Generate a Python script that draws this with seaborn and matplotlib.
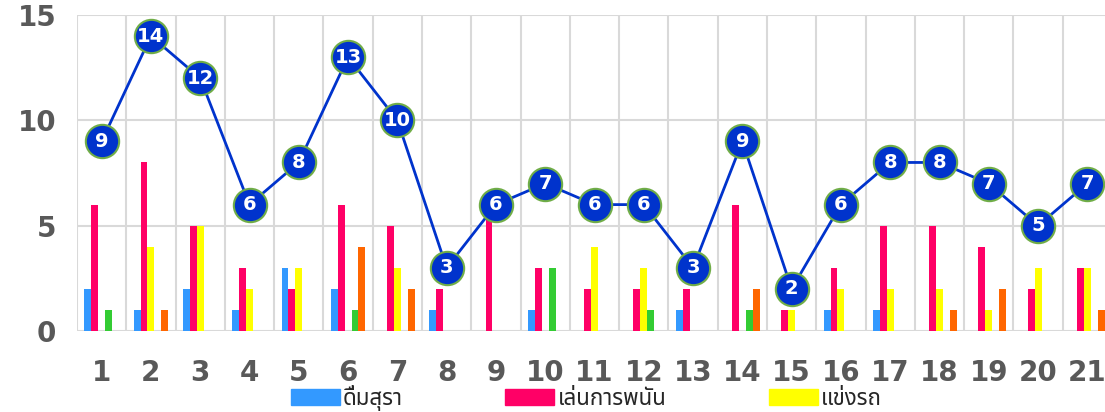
import seaborn as sns
import matplotlib.pyplot as plt
import matplotlib.patches as mpatches
import numpy as np
import pandas as pd

# data
days = [str(i) for i in range(1, 22)]
drinking = [2, 1, 2, 1, 3, 2, 0, 1, 0, 1, 0, 0, 1, 0, 0, 1, 1, 0, 0, 0, 0]
gambling = [6, 8, 5, 3, 2, 6, 5, 2, 6, 3, 2, 2, 2, 6, 1, 3, 5, 5, 4, 2, 3]
racing = [0, 4, 5, 2, 3, 0, 3, 0, 0, 0, 4, 3, 0, 0, 1, 2, 2, 2, 1, 3, 3]
series4 = [1, 0, 0, 0, 0, 1, 0, 0, 0, 3, 0, 1, 0, 1, 0, 0, 0, 0, 0, 0, 0]
series5 = [0, 1, 0, 0, 0, 4, 2, 0, 0, 0, 0, 0, 0, 2, 0, 0, 0, 1, 2, 0, 1]
totals = [9, 14, 12, 6, 8, 13, 10, 3, 6, 7, 6, 6, 3, 9, 2, 6, 8, 8, 7, 5, 7]
y_ticks = [0, 5, 10, 15]

series_names = ['ดื่มสุรา', 'เล่นการพนัน', 'แข่งรถ', 's4', 's5']
colors = ['#3399FF', '#FF0066', '#FFFF00', '#33CC33', '#FF6600']

df = pd.DataFrame({
    'day': days * 5,
    'count': drinking + gambling + racing + series4 + series5,
    'group': np.repeat(series_names, len(days)),
})

sns.set_theme(style='white')
plt.rcParams['font.family'] = ['Noto Sans Thai', 'Tahoma', 'Noto Sans', 'DejaVu Sans']

fig = plt.figure(figsize=(11.05, 4.12), dpi=100)
ax = fig.add_axes([77 / 1105, 1 - 331 / 412, 1035 / 1105, 316 / 412])

sns.barplot(data=df, x='day', y='count', hue='group', palette=colors,
            width=0.7, gap=0, saturation=1, legend=False, ax=ax,
            linewidth=0, zorder=2)

xs = np.arange(len(days))
sns.lineplot(x=xs, y=totals, color='#0033CC', linewidth=2, marker='o',
             markersize=24, markerfacecolor='#0033CC', markeredgecolor='#70AD47',
             markeredgewidth=1.5, ax=ax, zorder=4)
for x, v in zip(xs, totals):
    ax.text(x, v, str(v), color='white', fontsize=14, fontweight='bold',
            ha='center', va='center', family='DejaVu Sans', zorder=5)

tick_font = dict(fontsize=20, fontweight='bold', color='#595959', family='DejaVu Sans')
ax.set_ylim(0, 15)
ax.set_xlim(-0.5, len(days) - 0.5)
ax.set_yticks(y_ticks, labels=[str(t) for t in y_ticks], **tick_font)
ax.set_xticks(xs, labels=days, **tick_font)
ax.set_xticks(np.arange(len(days) + 1) - 0.5, minor=True)
ax.grid(True, axis='y', color='#D9D9D9', linewidth=1.5, zorder=0)
ax.grid(True, axis='x', which='minor', color='#D9D9D9', linewidth=1.5, zorder=0)
ax.grid(False, axis='x', which='major')
ax.set_axisbelow(True)
for s in ax.spines.values():
    s.set_visible(False)
ax.tick_params(axis='both', which='both', length=0)
ax.tick_params(axis='y', pad=15)
ax.tick_params(axis='x', pad=20)
ax.set_xlabel('')
ax.set_ylabel('')

handles = [mpatches.Patch(color=c, label=n) for c, n in zip(colors[:3], series_names[:3])]
fig.legend(handles=handles, loc='lower left', bbox_to_anchor=(282 / 1105, -0.018),
           ncol=3, frameon=False, fontsize=16, handlelength=2.2, handleheight=0.7,
           handletextpad=0.15, columnspacing=4.6, borderaxespad=0)

fig.savefig('out.png', dpi=100)
